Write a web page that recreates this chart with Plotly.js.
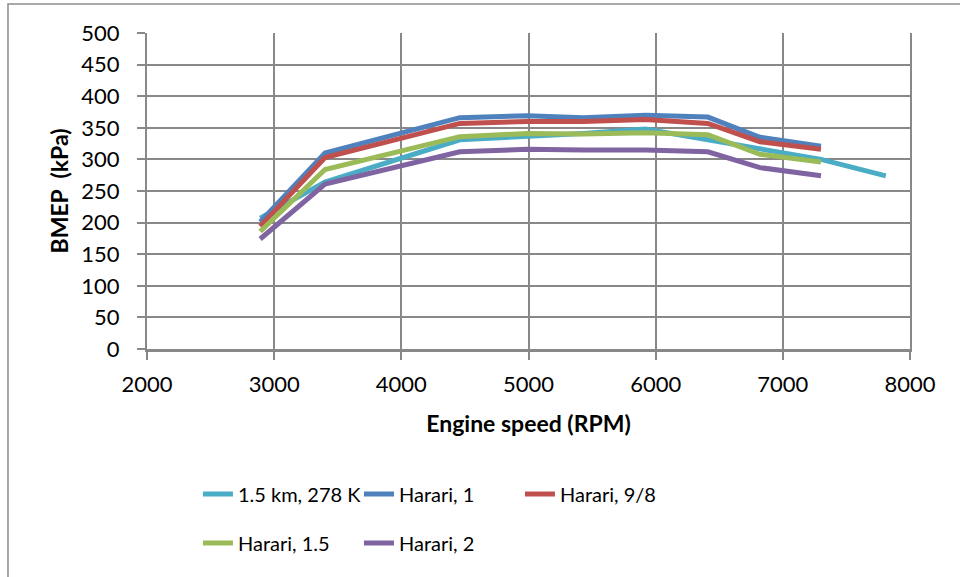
<!DOCTYPE html>
<html>
<head>
<meta charset="utf-8">
<script src="https://cdn.plot.ly/plotly-3.0.1.min.js"></script>
<style>html,body{margin:0;padding:0;background:#fff;}#chart{width:960px;height:577px;}</style>
</head>
<body>
<div id="chart"></div>
<script>
// Engine speed (RPM)
const rpm = [2890, 3400, 4460, 4990, 5430, 5920, 6410, 6820, 7300];
const rpmCyan = [2890, 3400, 4460, 4990, 5430, 5920, 6410, 6820, 7300, 7810];
// BMEP (kPa)
const bmep_15km_278K = [207, 264, 331, 336, 341, 348, 331, 317, 300, 274];
const bmep_harari_1 = [201, 310, 366, 369, 366, 370, 367, 335, 321];
const bmep_harari_9_8 = [194, 303, 357, 360, 360, 363, 357, 328, 316];
const bmep_harari_15 = [186, 284, 336, 341, 340, 342, 339, 308, 296];
const bmep_harari_2 = [174, 261, 312, 316, 315, 315, 312, 287, 274];
const seriesNames = ["1.5 km, 278 K", "Harari, 1", "Harari, 9/8", "Harari, 1.5", "Harari, 2"];
const xTicks = [2000, 3000, 4000, 5000, 6000, 7000, 8000];
const yTicks = [0, 50, 100, 150, 200, 250, 300, 350, 400, 450, 500];

const colors = ["#4BACC6", "#4F81BD", "#C0504D", "#9BBB59", "#8064A2"];
const xs = [rpmCyan, rpm, rpm, rpm, rpm];
const ys = [bmep_15km_278K, bmep_harari_1, bmep_harari_9_8, bmep_harari_15, bmep_harari_2];
const legendOf = ["legend", "legend", "legend", "legend2", "legend2"];

const traces = seriesNames.map((n, i) => ({
  type: "scatter", mode: "lines", name: n,
  x: xs[i], y: ys[i],
  line: {color: colors[i], width: 5},
  legend: legendOf[i]
}));

const font = "Lato, 'Open Sans', sans-serif";
const gridColor = "#888888";

const legendCommon = {
  orientation: "h", xanchor: "left", yanchor: "middle",
  font: {family: font, size: 20, color: "#000"},
  entrywidth: 116, entrywidthmode: "pixels",
  bgcolor: "rgba(0,0,0,0)", traceorder: "normal"
};

const layout = {
  width: 960, height: 577,
  margin: {l: 147, r: 50, t: 33, b: 228},
  paper_bgcolor: "#fff", plot_bgcolor: "#fff",
  font: {family: font, size: 22, color: "#000"},
  showlegend: true,
  xaxis: {
    range: [2000, 8000], tickvals: xTicks, ticktext: xTicks.map(String),
    showgrid: true, gridcolor: gridColor, gridwidth: 2,
    showline: true, linecolor: gridColor, linewidth: 3,
    ticks: "outside", ticklen: 8, tickcolor: gridColor, tickwidth: 2,
    ticklabelstandoff: 6,
    zeroline: false,
    tickfont: {family: font, size: 22, color: "#000"},
    title: {text: "<b>Engine speed (RPM)</b>", font: {family: font, size: 23, color: "#000"}, standoff: 20}
  },
  yaxis: {
    range: [0, 500], tickvals: yTicks, ticktext: yTicks.map(String),
    showgrid: true, gridcolor: gridColor, gridwidth: 2,
    showline: true, linecolor: gridColor, linewidth: 2, mirror: true,
    ticks: "outside", ticklen: 8, tickcolor: gridColor, tickwidth: 2,
    ticklabelstandoff: 13,
    zeroline: false,
    tickfont: {family: font, size: 22, color: "#000"},
    title: {text: "<b>BMEP  (kPa)</b>", font: {family: font, size: 23, color: "#000"}, standoff: 6}
  },
  legend: Object.assign({}, legendCommon, {x: 0.0668, y: -0.459}),
  legend2: Object.assign({}, legendCommon, {x: 0.0668, y: -0.614}),
  shapes: [{
    type: "rect", xref: "paper", yref: "paper",
    x0: -0.1822, x1: 1.12, y0: -0.8, y1: 1.0918,
    line: {color: "#8c8c8c", width: 1.5}, fillcolor: "rgba(0,0,0,0)", layer: "below"
  }]
};

Plotly.newPlot("chart", traces, layout, {displayModeBar: false, staticPlot: true});
</script>
</body>
</html>
